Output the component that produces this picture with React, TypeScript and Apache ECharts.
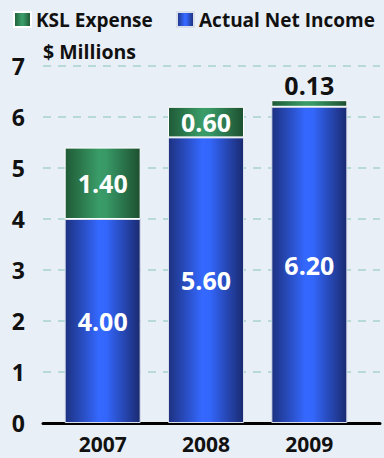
import React, { useEffect, useRef } from "react";
import * as echarts from "echarts";

const categories = ["2007", "2008", "2009"];
const netIncome = [4.0, 5.6, 6.2];
const kslExpense = [1.4, 0.6, 0.13];
const yTicks = [0, 1, 2, 3, 4, 5, 6, 7];

const FONT = "'Open Sans', sans-serif";

export default function App() {
  const ref = useRef<HTMLDivElement>(null);
  useEffect(() => {
    if (!ref.current) return;
    const chart = echarts.init(ref.current, undefined, { renderer: "svg" });
    const blueGrad = new echarts.graphic.LinearGradient(0, 0, 1, 0, [
      { offset: 0, color: "#1d3180" },
      { offset: 0.45, color: "#3468ff" },
      { offset: 0.55, color: "#3366fb" },
      { offset: 1, color: "#1a2a70" },
    ]);
    const greenGrad = new echarts.graphic.LinearGradient(0, 0, 1, 0, [
      { offset: 0, color: "#1f5a36" },
      { offset: 0.45, color: "#3a9c68" },
      { offset: 0.55, color: "#389866" },
      { offset: 1, color: "#1d5030" },
    ]);
    const fmt = (p: any) => Number(p.value).toFixed(2);
    const legendBase = {
      top: 10,
      padding: 0,
      icon: "rect",
      itemWidth: 17,
      itemHeight: 15,
      textStyle: { fontFamily: FONT, fontWeight: "bold", fontSize: 19, color: "#111" },
    };
    chart.setOption({
      animation: false,
      backgroundColor: "#e9eff7",
      textStyle: { fontFamily: FONT },
      title: {
        text: "$ Millions",
        left: 38,
        top: 36,
        textStyle: { fontFamily: FONT, fontWeight: "bold", fontSize: 19.5, color: "#111" },
      },
      legend: [
        { ...legendBase, data: ["KSL Expense"], left: 13 },
        { ...legendBase, data: ["Actual Net Income"], left: 176 },
      ],
      grid: [
        { left: 51, width: 310, top: 66, height: 357 },
        { left: 43, right: 4, top: 66, height: 357 },
      ],
      xAxis: [
        {
          type: "category",
          gridIndex: 0,
          data: categories,
          axisLine: { show: false },
          axisTick: { show: false },
          axisLabel: { margin: 10, fontFamily: FONT, fontWeight: "bold", fontSize: 21, color: "#111" },
        },
        {
          type: "value",
          gridIndex: 1,
          min: 0,
          max: 1,
          axisLine: { show: true, lineStyle: { color: "#000", width: 3 } },
          axisTick: { show: false },
          axisLabel: { show: false },
          splitLine: { show: false },
        },
      ],
      yAxis: [
        {
          type: "value",
          gridIndex: 0,
          min: 0,
          max: 7,
          interval: 1,
          axisLabel: { show: false },
          axisLine: { show: false },
          axisTick: { show: false },
          splitLine: { show: false },
        },
        {
          type: "value",
          gridIndex: 1,
          min: yTicks[0],
          max: yTicks[yTicks.length - 1],
          interval: 1,
          axisLine: { show: false },
          axisTick: { show: false },
          axisLabel: { margin: 18, fontFamily: FONT, fontWeight: "bold", fontSize: 23, color: "#111" },
          splitLine: { show: true, lineStyle: { color: "#a7d3cf", width: 1.5, type: [8, 7] } },
        },
      ],
      series: [
        {
          name: "Actual Net Income",
          type: "bar",
          stack: "total",
          xAxisIndex: 0,
          yAxisIndex: 0,
          barWidth: 76,
          data: netIncome,
          itemStyle: { color: blueGrad, borderColor: "#d8deea", borderWidth: 1 },
          label: {
            show: true,
            position: "inside",
            formatter: fmt,
            fontFamily: FONT,
            fontWeight: "bold",
            fontSize: 25,
            color: "#fff",
          },
        },
        {
          name: "KSL Expense",
          type: "bar",
          stack: "total",
          xAxisIndex: 0,
          yAxisIndex: 0,
          barWidth: 76,
          data: kslExpense.map((v, i) =>
            i === 2
              ? { value: v, label: { position: "top", distance: 3, color: "#111" } }
              : v
          ),
          itemStyle: { color: greenGrad, borderColor: "#ffffff", borderWidth: 1 },
          label: {
            show: true,
            position: "inside",
            formatter: fmt,
            fontFamily: FONT,
            fontWeight: "bold",
            fontSize: 25,
            color: "#fff",
          },
        },
      ],
    });
    return () => chart.dispose();
  }, []);
  return (
    <div
      ref={ref}
      style={{ position: "fixed", left: 0, top: 0, width: 384, height: 458 }}
    />
  );
}
